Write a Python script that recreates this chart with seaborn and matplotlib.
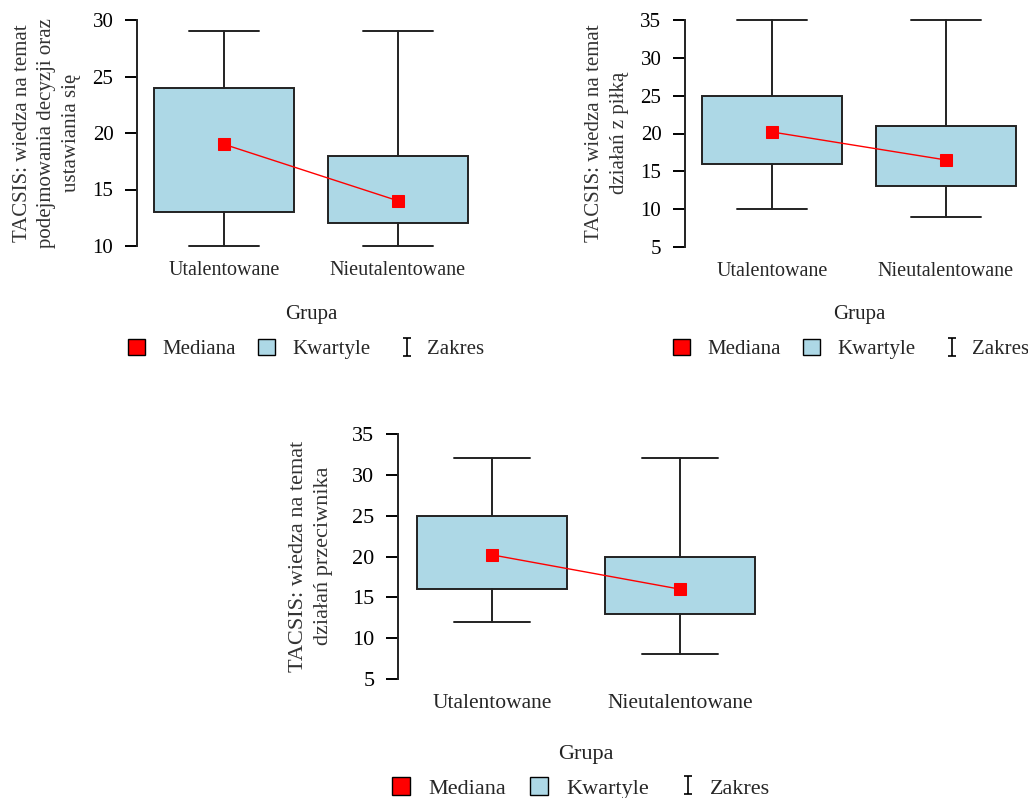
import matplotlib
matplotlib.use("Agg")
import matplotlib.pyplot as plt
import seaborn as sns
from matplotlib.patches import Patch
from matplotlib.lines import Line2D
from matplotlib.path import Path

# ---------------- data ----------------
groups = ["Utalentowane", "Nieutalentowane"]

p1_label = "TACSIS: wiedza na temat\npodejmowania decyzji oraz\nustawiania się"
p1_min = [10, 10]
p1_q1 = [13, 12]
p1_med = [19, 14]
p1_q3 = [24, 18]
p1_max = [29, 29]
p1_ticks = [10, 15, 20, 25, 30]

p2_label = "TACSIS: wiedza na temat\ndziałań z piłką"
p2_min = [10, 9]
p2_q1 = [16, 13]
p2_med = [20.2, 16.5]
p2_q3 = [25, 21]
p2_max = [35, 35]
p2_ticks = [5, 10, 15, 20, 25, 30, 35]

p3_label = "TACSIS: wiedza na temat\ndziałań przeciwnika"
p3_min = [12, 8]
p3_q1 = [16, 13]
p3_med = [20.2, 16]
p3_q3 = [25, 20]
p3_max = [32, 32]
p3_ticks = [5, 10, 15, 20, 25, 30, 35]

xlabel = "Grupa"
legend_labels = ["Mediana", "Kwartyle", "Zakres"]

# ---------------- style ----------------
sns.set_style("ticks")
plt.rcParams["font.family"] = ["Liberation Serif", "DejaVu Serif"]

W, H = 1028, 798
fig = plt.figure(figsize=(W / 100, H / 100), dpi=100)
fig.patch.set_facecolor("white")

BOX_COLOR = "#ADD8E6"
EDGE = "#222222"

# I-shaped legend symbol, shifted slightly right so it sits close to its text
ibar = Path([(0.2, 1), (1.1, 1), (0.65, 1), (0.65, -1), (0.2, -1), (1.1, -1)],
            [Path.MOVETO, Path.LINETO, Path.MOVETO, Path.LINETO, Path.MOVETO, Path.LINETO])


def px_axes(left, right, top, bottom):
    return fig.add_axes([left / W, 1 - bottom / H, (right - left) / W, (bottom - top) / H])


def panel(rect, mins, q1s, meds, q3s, maxs, ticks, ylab, ylab_xy, grupa_xy, leg_xy, fs=1.0):
    ax = px_axes(*rect)
    stats = []
    for g, lo, a, m, b, hi in zip(groups, mins, q1s, meds, q3s, maxs):
        stats.append(dict(label=g, whislo=lo, q1=a, med=m, q3=b, whishi=hi, fliers=[]))
    ax.bxp(stats, positions=[0, 1], widths=0.8, capwidths=0.4, patch_artist=True,
           showfliers=False,
           boxprops=dict(facecolor=BOX_COLOR, edgecolor=EDGE, linewidth=1.4),
           whiskerprops=dict(color=EDGE, linewidth=1.4),
           capprops=dict(color=EDGE, linewidth=1.4),
           medianprops=dict(linewidth=0))
    sns.pointplot(x=groups, y=meds, ax=ax, color="red", markers="s", markersize=9,
                  linewidth=1.0, errorbar=None, zorder=5)
    for ln in ax.lines:
        ln.set_clip_on(False)
    for p in ax.patches:
        p.set_clip_on(False)
    ax.set_xlim(-0.5, 1.5)
    ax.set_ylim(ticks[0], ticks[-1])
    ax.set_yticks(ticks)
    ax.set_yticklabels([str(t) for t in ticks], fontsize=15 * fs)
    ax.set_xticks([0, 1])
    ax.set_xticklabels(groups, fontsize=14.5 * fs)
    ax.tick_params(axis="x", length=0, pad=11)
    ax.tick_params(axis="y", length=9, width=1.4, pad=8, colors="black")
    ax.set_xlabel("")
    ax.set_ylabel("")
    ax.set_facecolor("none")
    for s in ["top", "right", "bottom"]:
        ax.spines[s].set_visible(False)
    ax.spines["left"].set_linewidth(1.4)
    ax.spines["left"].set_color(EDGE)
    fig.text(ylab_xy[0] / W, 1 - ylab_xy[1] / H, ylab, rotation=90, ha="center", va="center",
             multialignment="center", fontsize=15 * fs, color="#333333", linespacing=1.36)
    fig.text(grupa_xy[0] / W, 1 - grupa_xy[1] / H, xlabel, ha="center", va="center",
             fontsize=15 * fs, color="#222222")
    handles = [Patch(facecolor="red", edgecolor="black", linewidth=1.0),
               Patch(facecolor=BOX_COLOR, edgecolor="black", linewidth=1.0),
               Line2D([], [], marker=ibar, linestyle="none", markersize=14 * fs,
                      markeredgecolor="black", markeredgewidth=1.2, color="black")]
    fig.legend(handles, legend_labels, loc="center",
               bbox_to_anchor=(leg_xy[0] / W, 1 - leg_xy[1] / H), ncol=3, frameon=False,
               fontsize=15 * fs, handlelength=0.82, handleheight=0.82, handletextpad=0.82,
               columnspacing=1.06, borderpad=0)
    return ax


panel((137, 485, 20, 246), p1_min, p1_q1, p1_med, p1_q3, p1_max, p1_ticks, p1_label,
      (47, 133), (311, 315), (306, 349))
panel((685, 1033, 20, 247), p2_min, p2_q1, p2_med, p2_q3, p2_max, p2_ticks, p2_label,
      (607, 133), (859, 315), (851, 349))
panel((398, 774, 434, 679), p3_min, p3_q1, p3_med, p3_q3, p3_max, p3_ticks, p3_label,
      (311, 556), (586, 755), (581, 788), fs=1.07)

fig.savefig("out.png", dpi=100, facecolor="white")
